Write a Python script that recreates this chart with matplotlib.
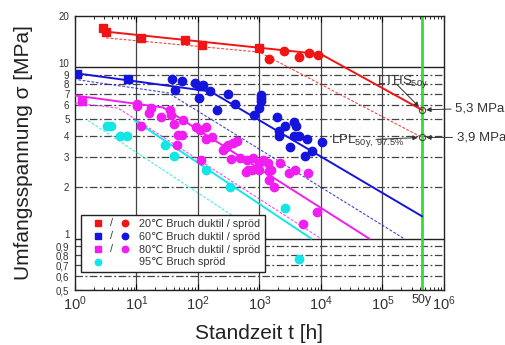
import matplotlib
matplotlib.use("Agg")
import matplotlib.pyplot as plt
import matplotlib.transforms as mtransforms
from matplotlib.legend_handler import HandlerBase
from matplotlib.lines import Line2D
from matplotlib.text import Text
from matplotlib.ticker import FixedLocator, LogLocator, NullFormatter, NullLocator

plt.rcParams["font.family"] = ["Liberation Sans", "DejaVu Sans"]
plt.rcParams["mathtext.fontset"] = "custom"
plt.rcParams["mathtext.rm"] = "Liberation Sans"
plt.rcParams["mathtext.it"] = "Liberation Sans:italic"
plt.rcParams["mathtext.bf"] = "Liberation Sans:bold"

RED = "#f01414"
BLUE = "#1414dc"
MAGENTA = "#f01ef0"
CYAN = "#14e6e6"
GREEN = "#33dd33"
INK = "#333333"

T_50Y = 50 * 8760  # 50 years in hours

# --- measured points (t in h, sigma in MPa) ---
red_duct_t = [2.9, 3.2, 11.7, 61, 117, 980]
red_duct_s = [17.1, 16.2, 14.9, 14.5, 13.55, 13.0]
red_brit_t = [1410, 2520, 4320, 6440, 9100]
red_brit_s = [11.2, 12.5, 11.5, 12.2, 11.85]

blue_duct_t = [1.09, 7.3]
blue_duct_s = [9.18, 8.55]
blue_brit_t = [37.8, 55.7, 41.8, 88, 103, 120, 103, 158, 202, 310, 396, 1060, 1060,
               1060, 996, 826, 1900, 2630, 3680, 3920, 2100, 2100, 3580, 4430, 5820,
               10570, 3170, 7120, 5540]
blue_brit_s = [8.62, 8.32, 7.41, 8.1, 7.84, 7.95, 6.62, 7.24, 5.61, 6.99, 6.11, 6.93, 6.62,
               6.33, 5.8, 5.3, 5.13, 4.52, 4.77, 4.57, 4.28, 3.99, 3.99, 3.99, 3.82,
               3.65, 3.41, 3.26, 3.03]

mag_duct_t = [1.28]
mag_duct_s = [6.38]
mag_brit_t = [10.1, 10.3, 17.1, 15.8, 12.0, 25.0, 35.1, 36.0, 40.2, 56.3, 47.2, 55.7, 45.5,
              93.8, 106, 133, 135, 171, 110, 305, 368, 427, 288, 253, 347, 485, 621, 797,
              644, 607, 767, 996, 996, 1156, 1358, 1542, 2157, 1446, 3053, 3818, 6040, 1420,
              1742, 8670, 5150]
mag_brit_s = [6.14, 5.93, 5.78, 5.42, 4.52, 5.13, 5.64, 5.30, 4.69, 4.90, 4.05, 4.05, 3.52,
              4.48, 4.33, 4.49, 3.84, 3.92, 2.87, 3.54, 3.62, 3.70, 3.43, 3.31, 2.92, 2.96, 2.87, 2.96,
              2.53, 2.44, 2.51, 2.77, 2.51, 2.89, 2.77, 2.53, 2.77, 2.47, 2.43, 2.50, 2.40, 2.21,
              2.01, 1.42, 1.21]

cyan_brit_t = [3.36, 3.9, 5.36, 6.96, 29.3, 41.3, 133, 334, 2630, 4320]
cyan_brit_s = [4.52, 4.52, 3.99, 3.99, 3.52, 3.03, 2.51, 2.00, 1.50, 0.755]

# --- fitted curves (mean = solid, lower limit = dashed) ---
red_fit_t = [3.2, 1e4, T_50Y]
red_fit_s = [16.2, 11.96, 5.65]
red_lpl_t = [3.2, 1000, T_50Y]
red_lpl_s = [14.9, 12.3, 3.9]
blue_fit_t = [1, 160, T_50Y]
blue_fit_s = [9.27, 7.24, 1.35]
blue_lpl_t = [1.13, 33, 2.23e5]
blue_lpl_s = [8.47, 7.1, 1.0]
mag_fit_t = [1, 27, 6.04e4]
mag_fit_s = [6.86, 5.84, 1.0]
mag_lpl_t = [1, 5, 9950]
mag_lpl_s = [6.2, 5.79, 1.0]
cyan_fit_t = [9.4, 6900]
cyan_fit_s = [4.89, 1.0]
cyan_lpl_t = [1.64, 1340]
cyan_lpl_s = [4.89, 1.0]

LTHS_50Y = 5.65
LPL_50Y = 3.9

y_ticks = [0.5, 0.6, 0.7, 0.8, 0.9, 1, 2, 3, 4, 5, 6, 7, 8, 9, 10, 20]
y_labels = ["0,5", "0,6", "0,7", "0,8", "0,9", "1", "2", "3", "4", "5", "6", "7", "8", "9", "10", "20"]

legend_rows = [
    (RED, True, "20\u2103 Bruch duktil / spröd"),
    (BLUE, True, "60\u2103 Bruch duktil / spröd"),
    (MAGENTA, True, "80\u2103 Bruch duktil / spröd"),
    (CYAN, False, "95\u2103 Bruch spröd"),
]


class SymbolPair:
    def __init__(self, color, square):
        self.color = color
        self.square = square


class SymbolPairHandler(HandlerBase):
    def create_artists(self, legend, orig_handle, xdescent, ydescent, width, height, fontsize, trans):
        y = height / 2 - ydescent
        c = orig_handle.color
        if not orig_handle.square:
            return [Line2D([0.28 * width - xdescent], [y], marker="o", ms=4.6, ls="none",
                           color=c, transform=trans)]
        sq = Line2D([0.28 * width - xdescent], [y], marker="s", ms=4.2, ls="none",
                    color=c, transform=trans)
        sl = Text(0.58 * width - xdescent, y, "/", ha="center", va="center",
                  fontsize=fontsize, color=INK, transform=trans)
        ci = Line2D([0.88 * width - xdescent], [y], marker="o", ms=4.6, ls="none",
                    color=c, transform=trans)
        return [sq, sl, ci]


fig = plt.figure(figsize=(5.05, 3.45), dpi=100)
ax = fig.add_axes([0.1485, 0.1594, 0.7307, 0.7942])
ax.set_xscale("log")
ax.set_yscale("log")
ax.set_xlim(1, 1e6)
ax.set_ylim(0.5, 20)

# grid
for e in range(1, 6):
    ax.axvline(10 ** e, color="#444444", lw=0.9, zorder=1)
for v in y_ticks:
    if v in (1, 10):
        ax.axhline(v, color="#222222", lw=1.0, zorder=1)
    elif v != 20:
        ax.axhline(v, color="#444444", lw=0.9, ls=(0, (6, 2, 1.5, 2)), zorder=1)

ax.axvline(T_50Y, color=GREEN, lw=2.0, zorder=2)

# fitted lines
for t, s, c in [(red_fit_t, red_fit_s, RED), (blue_fit_t, blue_fit_s, BLUE),
                (mag_fit_t, mag_fit_s, MAGENTA), (cyan_fit_t, cyan_fit_s, CYAN)]:
    ax.plot(t, s, color=c, lw=1.4, zorder=3)
for t, s, c in [(red_lpl_t, red_lpl_s, RED), (blue_lpl_t, blue_lpl_s, BLUE),
                (mag_lpl_t, mag_lpl_s, MAGENTA), (cyan_lpl_t, cyan_lpl_s, CYAN)]:
    ax.plot(t, s, color=c, lw=0.8, ls=(0, (2.5, 1.5)), alpha=0.8, zorder=3)

# points
ax.plot(red_duct_t, red_duct_s, "s", color=RED, ms=5.2, zorder=4)
ax.plot(red_brit_t, red_brit_s, "o", color=RED, ms=6, zorder=4)
ax.plot(blue_duct_t, blue_duct_s, "s", color=BLUE, ms=5.2, zorder=4)
ax.plot(blue_brit_t, blue_brit_s, "o", color=BLUE, ms=6, zorder=4)
ax.plot(mag_duct_t, mag_duct_s, "s", color=MAGENTA, ms=5.2, zorder=4)
ax.plot(mag_brit_t, mag_brit_s, "o", color=MAGENTA, ms=6, zorder=4)
ax.plot(cyan_brit_t, cyan_brit_s, "o", color=CYAN, ms=6, zorder=4)

# 50y values
ax.plot([T_50Y, T_50Y], [LTHS_50Y, LPL_50Y], "o", ms=4.5, mfc="none", mec="#335533",
        mew=0.8, zorder=5)
arrow = dict(arrowstyle="-|>", lw=0.7, color=INK, mutation_scale=7, shrinkA=0, shrinkB=3)
ax.text(8.05e4, 8.05, r"LTHS$_{\mathdefault{50y}}$", fontsize=9.5, color=INK,
        ha="left", va="baseline", zorder=6)
ax.annotate("", xy=(T_50Y, LTHS_50Y), xytext=(1.75e5, 7.9), arrowprops=arrow, zorder=6)
ax.text(1.46e4, 3.64, r"LPL$_{\mathdefault{50y,\ 97.5\%}}$", fontsize=9.5, color=INK,
        ha="left", va="baseline", zorder=6)
ax.annotate("", xy=(T_50Y, LPL_50Y), xytext=(7.8e4, 3.8), arrowprops=arrow, zorder=6)
arrow_out = dict(arrow, shrinkA=1)
ax.annotate("5,3 MPa", xy=(T_50Y, LTHS_50Y), xytext=(24, 1.2), textcoords="offset points",
            fontsize=9.5, color=INK, ha="left", va="center", arrowprops=arrow_out,
            annotation_clip=False)
ax.annotate("3,9 MPa", xy=(T_50Y, LPL_50Y), xytext=(25, 0), textcoords="offset points",
            fontsize=9.5, color=INK, ha="left", va="center", arrowprops=arrow_out,
            annotation_clip=False)

# axes / ticks
ax.yaxis.set_major_locator(FixedLocator(y_ticks))
ax.set_yticklabels(y_labels)
ax.yaxis.set_minor_locator(NullLocator())
ax.tick_params(axis="y", which="major", length=0, pad=4, labelsize=7, labelcolor=INK)
# "10" and "1" crowd the "9" / "0,9" labels just below: lift them a bit
for lab in ax.get_yticklabels():
    if lab.get_text() in ("10", "1"):
        lab.set_transform(lab.get_transform()
                          + mtransforms.ScaledTranslation(0, 3.5 / 72, fig.dpi_scale_trans))
ax.xaxis.set_major_locator(LogLocator(base=10, numticks=10))
ax.xaxis.set_minor_locator(LogLocator(base=10, subs=range(2, 10), numticks=10))
ax.xaxis.set_minor_formatter(NullFormatter())
ax.tick_params(axis="x", which="major", direction="in", length=4, top=True, pad=3,
               labelsize=10.5, labelcolor=INK)
ax.tick_params(axis="x", which="minor", direction="in", length=2.5, top=True, width=0.6)
for sp in ax.spines.values():
    sp.set_linewidth(1.0)
    sp.set_color("#222222")

tr = mtransforms.blended_transform_factory(ax.transData, ax.transAxes)
ax.text(T_50Y, -0.015, "50y", transform=tr, fontsize=9, color=INK, ha="center", va="top")

ax.set_xlabel("Standzeit t [h]", fontsize=15, color="#222222")
ax.set_ylabel("Umfangsspannung σ [MPa]", fontsize=15, color="#222222")
ax.xaxis.set_label_coords(0.5, -0.124)
ax.yaxis.set_label_coords(-0.114, 0.5)

handles = [SymbolPair(c, sq) for c, sq, _ in legend_rows]
labels = [lab for _, _, lab in legend_rows]
leg = ax.legend(handles, labels, handler_map={SymbolPair: SymbolPairHandler()},
                loc="lower left", bbox_to_anchor=(0.0154, 0.0668), borderaxespad=0,
                fontsize=7.8, handlelength=4.2, handletextpad=0.8, borderpad=0.4,
                labelspacing=0.25, fancybox=False, framealpha=1, edgecolor="#222222")
leg.get_frame().set_linewidth(1.0)
for txt in leg.get_texts():
    txt.set_color(INK)
leg.set_zorder(7)

fig.savefig("out.png", dpi=100)
